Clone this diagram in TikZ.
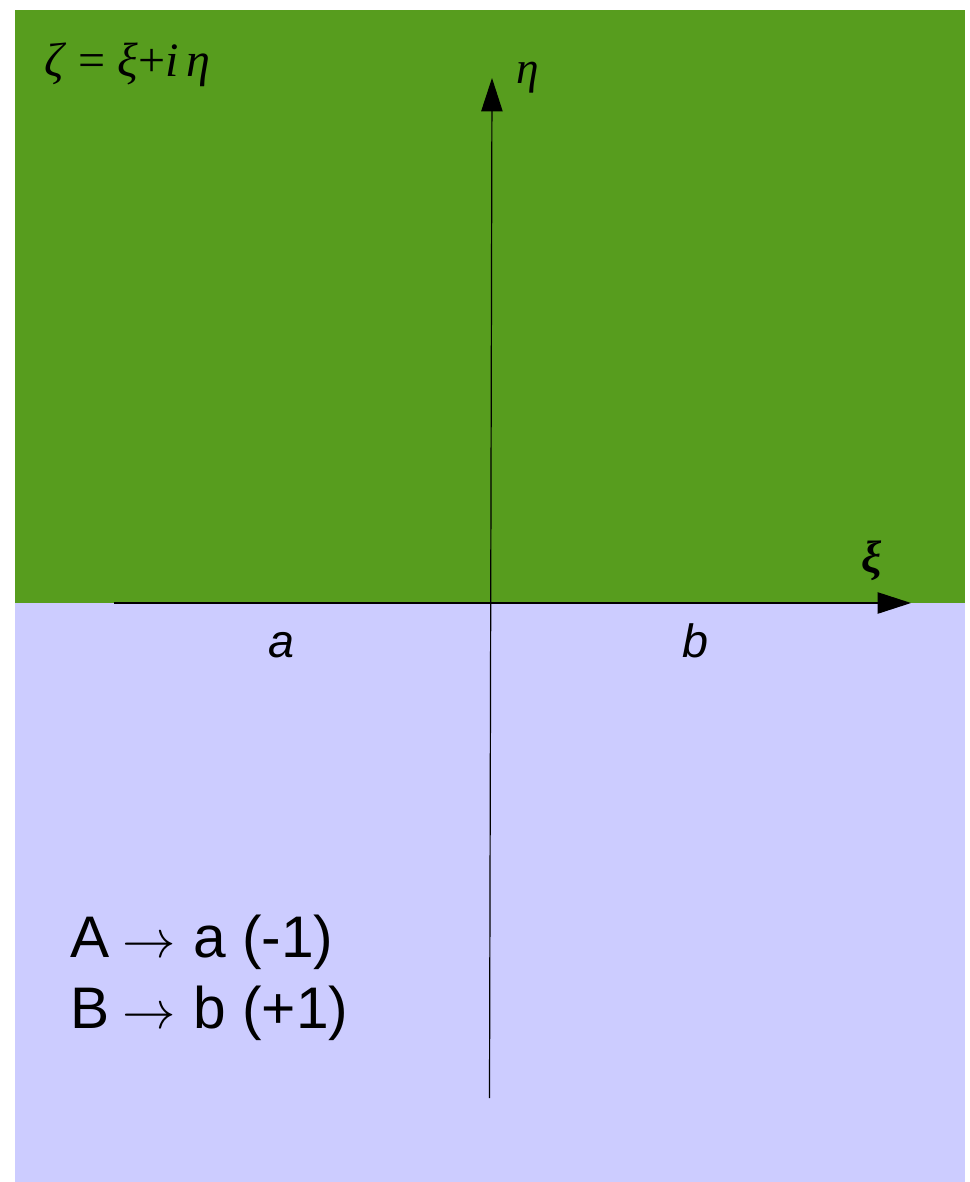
\documentclass[tikz,border=0pt]{standalone}
\usepackage{graphicx}
\usepackage{fontspec}
\setmainfont{Liberation Sans}
\newfontfamily\grk{Liberation Serif}
\usetikzlibrary{arrows.meta}
\definecolor{upgreen}{RGB}{87,157,30}
\definecolor{lowlav}{RGB}{204,204,255}
\newcommand{\bigarr}{\hspace{10pt}\scalebox{4}{\normalsize$\rightarrow$}\hspace{13pt}}
\begin{document}
\begin{tikzpicture}[x=0.75pt,y=-0.75pt,
  axis/.style={line width=0.9pt,-{Triangle[length=25pt,width=16pt]}},
  lbl/.style={inner sep=0pt,anchor=base west}]
\useasboundingbox (0,0) rectangle (970,1182);
\fill[white] (0,0) rectangle (970,1182);
\fill[upgreen] (15,10) rectangle (965,603);
\fill[lowlav] (15,603) rectangle (965,1182);
\coordinate (xs) at (114,603);
\coordinate (xe) at (911,603);
\coordinate (ys) at (489.5,1098);
\coordinate (ye) at (492,78);
\draw[axis] (xs) -- (xe);
\draw[axis] (ys) -- (ye);
\node[lbl] (zeta) at (44,76) {\grk\fontsize{36}{42}\selectfont\textit{ζ} = \textit{ξ}+\textit{i\,η}};
\node[lbl] (eta) at (516,83) {\grk\fontsize{34}{40}\selectfont\textit{η}};
\node[lbl] (xi) at (861,572) {\grk\fontsize{34}{40}\selectfont\textbf{\textit{ξ}}};
\node[lbl,anchor=base] (la) at (281,657) {\fontsize{35}{42}\selectfont\textit{a}};
\node[lbl,anchor=base] (lb) at (695,657) {\fontsize{35}{42}\selectfont\textit{b}};
\node[lbl] (ra) at (70,957) {\fontsize{44}{52}\selectfont A\bigarr a (-1)};
\node[lbl] (rb) at (70,1028) {\fontsize{44}{52}\selectfont B\bigarr b (+1)};
\end{tikzpicture}
\end{document}
